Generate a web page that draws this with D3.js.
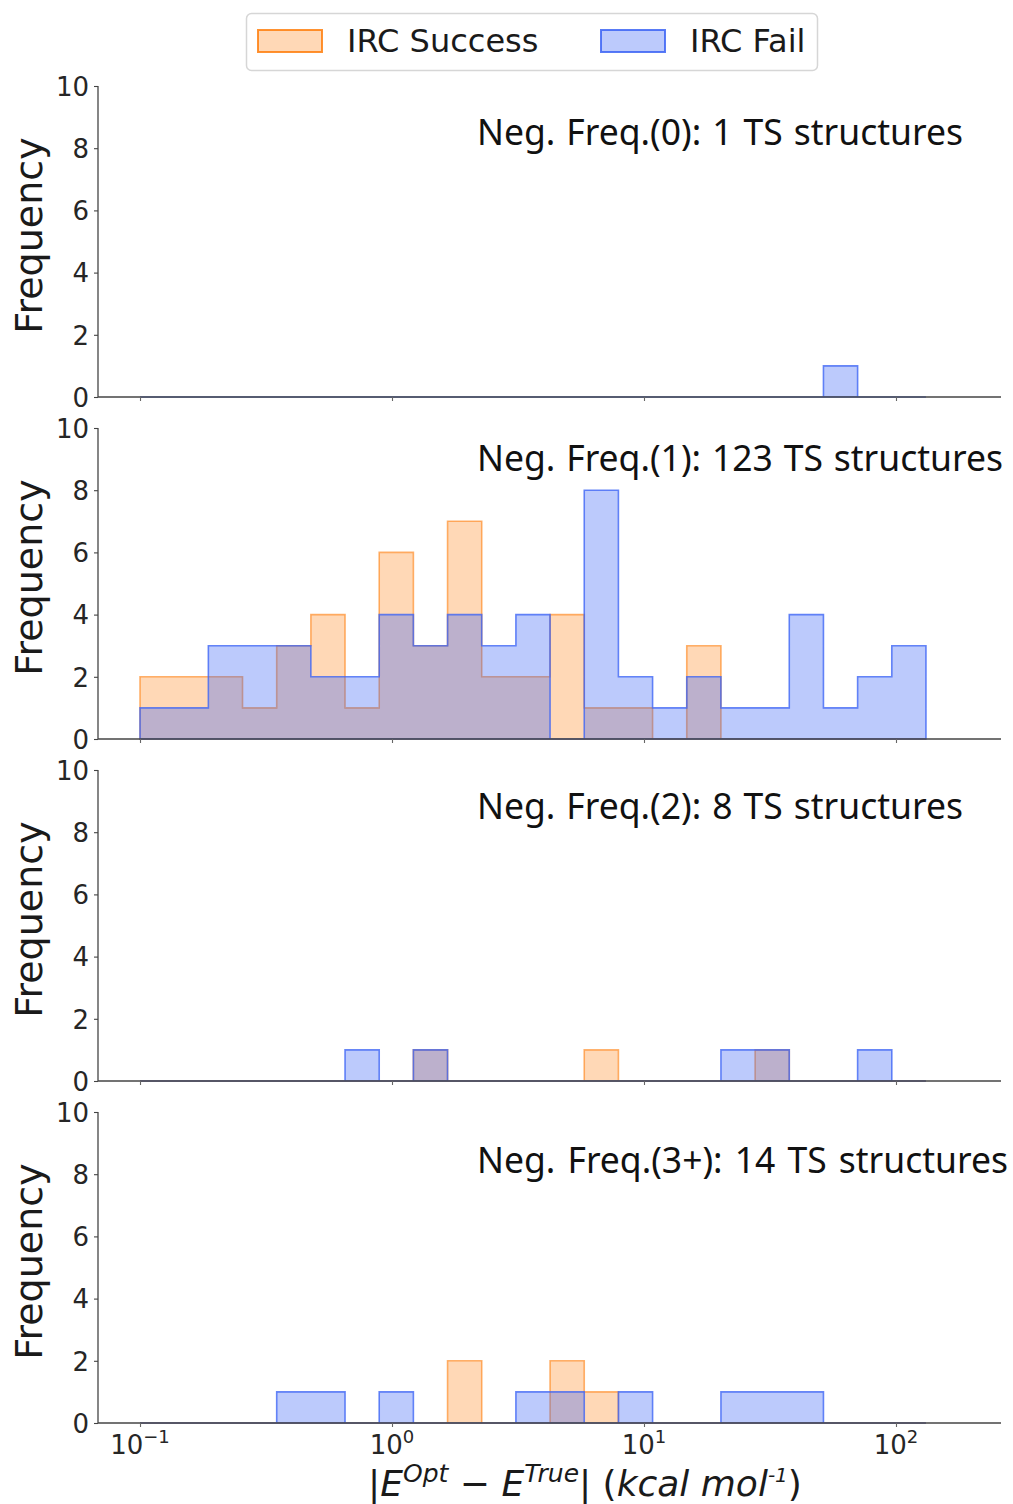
<!DOCTYPE html>
<html><head><meta charset="utf-8">
<script src="https://cdn.jsdelivr.net/npm/d3@7"></script>
<style>body{margin:0;background:#fff}svg{display:block}</style>
</head><body><svg id="c" width="1013" height="1504"></svg>
<script>
// ---------- data ----------
const seriesNames = ["IRC Success", "IRC Fail"];
const panelLabels = [
  "Neg. Freq.(0): 1 TS structures",
  "Neg. Freq.(1): 123 TS structures",
  "Neg. Freq.(2): 8 TS structures",
  "Neg. Freq.(3+): 14 TS structures"
];
// log-spaced bins from 0.1 to ~131.5 kcal/mol (23 bins)
const binMin = 0.1, binMax = 131.5, binCount = 23;
const success0 = [0,0,0,0,0,0,0,0,0,0,0,0,0,0,0,0,0,0,0,0,0,0,0];
const fail0    = [0,0,0,0,0,0,0,0,0,0,0,0,0,0,0,0,0,0,0,0,1,0,0];
const success1 = [2,2,2,1,3,4,1,6,3,7,2,2,4,1,1,0,3,0,0,0,0,0,0];
const fail1    = [1,1,3,3,3,2,2,4,3,4,3,4,0,8,2,1,2,1,1,4,1,2,3];
const success2 = [0,0,0,0,0,0,0,0,1,0,0,0,0,1,0,0,0,0,1,0,0,0,0];
const fail2    = [0,0,0,0,0,0,1,0,1,0,0,0,0,0,0,0,0,1,1,0,0,1,0];
const success3 = [0,0,0,0,0,0,0,0,0,2,0,0,2,1,0,0,0,0,0,0,0,0,0];
const fail3    = [0,0,0,0,1,1,0,1,0,0,0,1,1,0,1,0,0,1,1,1,0,0,0];
const successCounts = [success0, success1, success2, success3];
const failCounts = [fail0, fail1, fail2, fail3];
const yTicks = [0, 2, 4, 6, 8, 10];
const xTicks = [0.1, 1, 10, 100];
const xTickExp = ["\u22121", "0", "1", "2"];

// ---------- layout ----------
const svg = d3.select("#c");
const left = 98, right = 1001, panelH = 311, panelStep = 342, firstTop = 86;
const x = d3.scaleLog().domain([Math.pow(10, -1.1667), Math.pow(10, 2.4167)]).range([left, right]);
const lMin = Math.log10(binMin), lMax = Math.log10(binMax);
const edges = d3.range(binCount + 1).map(i => Math.pow(10, lMin + (lMax - lMin) * i / binCount));

const colors = {
  success: {fill: "rgb(255,127,14)", fo: 0.3, so: 0.6},
  fail: {fill: "rgb(60,100,245)", fo: 0.34, so: 0.78}
};
const labelBaselines = [145, 471, 819, 1173];
const labelWidths = [486, 526, 486, 531];

function stepPath(counts, y) {
  let p = `M${x(edges[0])},${y(0)}`;
  counts.forEach((c, i) => {
    p += `L${x(edges[i])},${y(c)}L${x(edges[i + 1])},${y(c)}`;
  });
  p += `L${x(edges[binCount])},${y(0)}Z`;
  return p;
}

for (let k = 0; k < 4; k++) {
  const top = firstTop + k * panelStep;
  const y = d3.scaleLinear().domain([0, 10]).range([top + panelH, top]);
  const g = svg.append("g");

  [[successCounts[k], colors.success], [failCounts[k], colors.fail]].forEach(([counts, c]) => {
    if (d3.sum(counts) === 0) return;
    g.append("path").attr("d", stepPath(counts, y))
      .attr("fill", c.fill).attr("fill-opacity", c.fo)
      .attr("stroke", c.fill).attr("stroke-opacity", c.so)
      .attr("stroke-width", 1.6).attr("stroke-linejoin", "miter");
  });

  // y axis
  const ya = g.append("g").attr("transform", `translate(${left},0)`)
    .call(d3.axisLeft(y).tickValues(yTicks).tickSize(4).tickPadding(5).tickFormat(d3.format("d")));
  ya.select(".domain").attr("stroke", "#444").attr("stroke-width", 1.3).attr("d", `M0,${y(10)}V${y(0)}`);
  ya.selectAll(".tick line").attr("stroke", "#444").attr("stroke-width", 1.1);
  ya.selectAll(".tick text").attr("font-family", "DejaVu Sans").attr("font-size", 26).attr("fill", "#262626")
    .attr("dy", "0.36em");

  // x axis
  const xa = g.append("g").attr("transform", `translate(0,${y(0)})`)
    .call(d3.axisBottom(x).tickValues(xTicks).tickSize(4).tickFormat(""));
  xa.select(".domain").attr("stroke", "#444").attr("stroke-width", 1.3).attr("d", `M${left},0H${right}`);
  xa.selectAll(".tick line").attr("stroke", "#666").attr("stroke-width", 1.1);

  if (k === 3) {
    xTicks.forEach((v, i) => {
      const t = g.append("text").attr("x", x(v)).attr("y", y(0) + 31)
        .attr("text-anchor", "middle").attr("font-family", "DejaVu Sans").attr("fill", "#262626");
      t.append("tspan").attr("font-size", 26).text("10");
      t.append("tspan").attr("font-size", 18).attr("dy", -11).text(xTickExp[i]);
    });
  }

  // y label
  g.append("text").attr("transform", `translate(42,${top + panelH / 2 - 6}) rotate(-90)`)
    .attr("text-anchor", "middle").attr("font-family", "DejaVu Sans").attr("font-size", 38)
    .attr("fill", "#1a1a1a").text("Frequency");

  // panel label
  const pl = g.append("text").attr("x", 477).attr("y", labelBaselines[k])
    .attr("font-family", "Noto Sans").attr("font-weight", 400).attr("font-size", 35.5).attr("fill", "#111")
    .text(panelLabels[k]);
  const w = pl.node().getComputedTextLength();
  const nSpaces = panelLabels[k].split(" ").length - 1;
  pl.attr("word-spacing", (labelWidths[k] - w) / nSpaces);
}

// x axis label
const xl = svg.append("text").attr("x", 585).attr("y", 1496).attr("text-anchor", "middle")
  .attr("font-family", "DejaVu Sans").attr("font-size", 36).attr("fill", "#1a1a1a");
xl.append("tspan").attr("font-style", "normal").text("|");
xl.append("tspan").attr("font-style", "italic").text("E");
xl.append("tspan").attr("font-style", "italic").attr("font-size", 25).attr("dy", -14).text("Opt");
xl.append("tspan").attr("dy", 14).text(" \u2212 ");
xl.append("tspan").attr("font-style", "italic").text("E");
xl.append("tspan").attr("font-style", "italic").attr("font-size", 25).attr("dy", -14).text("True");
xl.append("tspan").attr("dy", 14).text("|  (");
xl.append("tspan").attr("font-style", "italic").text("kcal mol");
xl.append("tspan").attr("font-style", "italic").attr("font-size", 20).attr("dy", -14).text("-1");
xl.append("tspan").attr("dy", 14).text(")");

// legend
const lg = svg.append("g");
lg.append("rect").attr("x", 246.5).attr("y", 13.5).attr("width", 571).attr("height", 57).attr("rx", 5)
  .attr("fill", "#fff").attr("stroke", "#d6d6d6").attr("stroke-width", 1.5);
const legendItems = [
  {name: seriesNames[0], c: colors.success, px: 258, tx: 347},
  {name: seriesNames[1], c: colors.fail, px: 601, tx: 690}
];
legendItems.forEach(it => {
  lg.append("rect").attr("x", it.px).attr("y", 30).attr("width", 64).attr("height", 22)
    .attr("fill", it.c.fill).attr("fill-opacity", it.c.fo)
    .attr("stroke", it.c.fill).attr("stroke-opacity", 0.85).attr("stroke-width", 2);
  lg.append("text").attr("x", it.tx).attr("y", 52).attr("font-family", "DejaVu Sans")
    .attr("font-size", 32).attr("fill", "#1a1a1a").text(it.name);
});
</script>
</body></html>
